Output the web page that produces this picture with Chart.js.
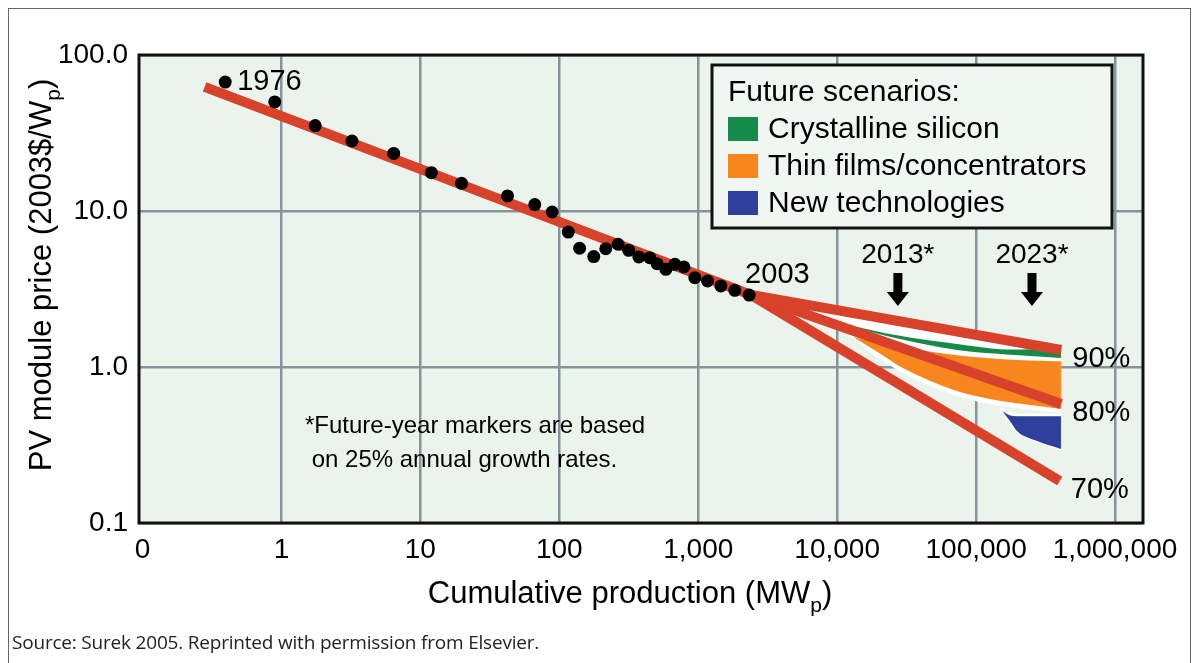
<!DOCTYPE html>
<html>
<head>
<meta charset="utf-8">
<title>PV module experience curve</title>
<script src="https://cdn.jsdelivr.net/npm/chart.js@4.4.1/dist/chart.umd.min.js"></script>
<style>
  html, body { margin: 0; padding: 0; background: #fff; }
  #wrap { position: relative; width: 1198px; height: 663px; overflow: hidden; }
  #frame { position: absolute; left: 8px; top: 8px; width: 1181px; height: 670px; border: 1px solid #666; }
  #myChart { position: absolute; left: 0; top: 0; }
  #source { position: absolute; left: 12px; top: 632px; font: 19px "Open Sans", sans-serif; line-height: 20px; color: #222; letter-spacing: -0.2px; }
</style>
</head>
<body>
<div id="wrap">
  <div id="frame"></div>
  <canvas id="myChart" width="1198" height="663"></canvas>
  <div id="source">Source: Surek 2005. Reprinted with permission from Elsevier.</div>
</div>
<script>
// historical data, 1976 .. 2003 (MWp, 2003$/Wp)
const histProduction = [0.394, 0.895, 1.75, 3.22, 6.43, 12.0, 19.8, 42.4, 66.6, 88.8, 116, 140, 177, 216, 265, 316, 374, 448, 506, 585, 679, 788, 945, 1167, 1455, 1834, 2324];
const histPrice = [67.1, 50.0, 35.3, 28.1, 23.4, 17.6, 15.05, 12.5, 11.0, 9.85, 7.33, 5.77, 5.10, 5.73, 6.12, 5.60, 5.07, 5.02, 4.59, 4.23, 4.55, 4.38, 3.74, 3.56, 3.31, 3.10, 2.89];

// 80% fit through the history
const fitProduction = [0.28, 2400];
const fitPrice = [62.4, 2.9];

// projections from 2003
const startProduction = 2400;
const startPrice = 2.9;
const learningLabels = ["90%", "80%", "70%"];
const endProduction = [410000, 410000, 400000];
const endPrice = [1.285, 0.579, 0.186];

// scenario areas (upper / lower edges)
const envelopeX = [5390, 9950, 19000, 29700, 72700, 125700, 217300, 408000];
const envelopeHigh = [2.633, 2.382, 2.138, 1.987, 1.714, 1.566, 1.429, 1.295];
const envelopeLow = [2.219, 1.805, 1.176, 0.915, 0.652, 0.579, 0.538, 0.507];

const siliconX = [9950, 23950, 72700, 166700, 408000];
const siliconHigh = [1.973, 1.659, 1.431, 1.318, 1.34];
const siliconLow = [1.94, 1.56, 1.285, 1.203, 1.142];

const thinFilmX = [12340, 19000, 29700, 72700, 125700, 217300, 408000];
const thinFilmHigh = [1.604, 1.468, 1.363, 1.211, 1.159, 1.125, 1.109];
const thinFilmLow = [1.604, 1.266, 0.985, 0.702, 0.624, 0.579, 0.538];

const newTechX = [148400, 175100, 196700, 274000, 408000];
const newTechHigh = [0.546, 0.4996, 0.492, 0.492, 0.492];
const newTechLow = [0.546, 0.4506, 0.389, 0.3355, 0.298];

// future-year markers
const markerYears = ["2013*", "2023*"];
const markerProduction = [27350, 252400];
const markerPrice = 4.0;

const xTickValues = [0.1, 1, 10, 100, 1000, 10000, 100000, 1000000];
const xTickLabels = ["0", "1", "10", "100", "1,000", "10,000", "100,000", "1,000,000"];
const yTickValues = [0.1, 1, 10, 100];
const yTickLabels = ["0.1", "1.0", "10.0", "100.0"];

const legendNames = ["Crystalline silicon", "Thin films/concentrators", "New technologies"];
const legendColors = ["#168a48", "#f7861f", "#2e3f9c"];

const RED = "#d8412a";
const INK = "#000";
const FONT = "'Liberation Sans', Arial, Helvetica, sans-serif";

const pts = (xs, ys) => xs.map((x, i) => ({ x: x, y: ys[i] }));

function area(data, color, fillTo, border, order) {
  return {
    data: data,
    showLine: true,
    pointRadius: 0,
    borderColor: border,
    borderWidth: border ? 2.5 : 0,
    backgroundColor: color,
    fill: fillTo,
    cubicInterpolationMode: "monotone",
    order: order
  };
}

function redLine(data) {
  return {
    data: data,
    showLine: true,
    pointRadius: 0,
    borderColor: RED,
    borderWidth: 10,
    borderCapStyle: "butt",
    fill: false,
    order: 3
  };
}

const datasets = [
  area(pts(envelopeX, envelopeHigh), "#ffffff", 1, null, 10),
  area(pts(envelopeX, envelopeLow), "#ffffff", false, null, 10),
  area(pts(siliconX, siliconHigh), legendColors[0], 3, "#ffffff", 9),
  area(pts(siliconX, siliconLow), legendColors[0], false, "#ffffff", 9),
  area(pts(thinFilmX, thinFilmHigh), legendColors[1], 5, "#ffffff", 8),
  area(pts(thinFilmX, thinFilmLow), legendColors[1], false, "#ffffff", 8),
  area(pts(newTechX, newTechHigh), legendColors[2], 7, "#ffffff", 7),
  area(pts(newTechX, newTechLow), legendColors[2], false, "#ffffff", 7),
  redLine(pts(fitProduction, fitPrice))
];
learningLabels.forEach((lab, i) => {
  datasets.push(redLine([{ x: startProduction, y: startPrice }, { x: endProduction[i], y: endPrice[i] }]));
});
datasets.push({
  data: pts(histProduction, histPrice),
  showLine: false,
  pointRadius: 6.5,
  pointBackgroundColor: "#000",
  pointBorderWidth: 0,
  order: 1
});

function textWithSub(ctx, main, sub, tail, size) {
  ctx.font = size + "px " + FONT;
  const w1 = ctx.measureText(main).width;
  const w3 = ctx.measureText(tail).width;
  ctx.font = Math.round(size * 0.68) + "px " + FONT;
  const w2 = ctx.measureText(sub).width;
  const total = w1 + w2 + w3;
  let x = -total / 2;
  ctx.textAlign = "left";
  ctx.font = size + "px " + FONT;
  ctx.fillText(main, x, 0);
  x += w1;
  ctx.font = Math.round(size * 0.68) + "px " + FONT;
  ctx.fillText(sub, x, size * 0.3);
  x += w2;
  ctx.font = size + "px " + FONT;
  ctx.fillText(tail, x, 0);
}

const decor = {
  id: "decor",
  beforeDraw(chart) {
    const a = chart.chartArea;
    const ctx = chart.ctx;
    ctx.save();
    ctx.fillStyle = "#eaf4ed";
    ctx.fillRect(a.left, a.top, a.right - a.left, a.bottom - a.top);
    ctx.restore();
  },
  afterDraw(chart) {
    const a = chart.chartArea;
    const ctx = chart.ctx;
    const xs = chart.scales.x;
    const ys = chart.scales.y;
    ctx.save();
    ctx.strokeStyle = "#111";
    ctx.lineWidth = 3;
    ctx.strokeRect(a.left, a.top, a.right - a.left, a.bottom - a.top);

    ctx.fillStyle = INK;
    ctx.textBaseline = "alphabetic";

    // point labels
    ctx.font = "29px " + FONT;
    ctx.textAlign = "left";
    const first = { x: xs.getPixelForValue(histProduction[0]), y: ys.getPixelForValue(histPrice[0]) };
    ctx.fillText("1976", first.x + 12, first.y + 8);
    const n = histProduction.length - 1;
    const last = { x: xs.getPixelForValue(histProduction[n]), y: ys.getPixelForValue(histPrice[n]) };
    ctx.fillText("2003", last.x - 4, last.y - 12);

    // learning rate labels
    learningLabels.forEach((lab, i) => {
      const px = xs.getPixelForValue(endProduction[i]);
      const py = ys.getPixelForValue(endPrice[i]);
      ctx.fillText(lab, px + 11, py + 17);
    });

    // future-year markers
    markerYears.forEach((lab, i) => {
      const px = xs.getPixelForValue(markerProduction[i]);
      const top = ys.getPixelForValue(markerPrice);
      ctx.textAlign = "center";
      ctx.font = "28px " + FONT;
      ctx.fillText(lab, px, top - 10);
      ctx.beginPath();
      ctx.moveTo(px - 4.5, top);
      ctx.lineTo(px + 4.5, top);
      ctx.lineTo(px + 4.5, top + 19);
      ctx.lineTo(px + 11, top + 19);
      ctx.lineTo(px, top + 33);
      ctx.lineTo(px - 11, top + 19);
      ctx.lineTo(px - 4.5, top + 19);
      ctx.closePath();
      ctx.fill();
    });

    // footnote
    ctx.textAlign = "left";
    ctx.font = "24px " + FONT;
    ctx.fillText("*Future-year markers are based", 305, 433);
    ctx.fillText(" on 25% annual growth rates.", 305, 467);

    // legend box
    ctx.fillStyle = "#f0f7f2";
    ctx.fillRect(712, 65, 400, 163);
    ctx.lineWidth = 3;
    ctx.strokeStyle = "#111";
    ctx.strokeRect(712, 65, 400, 163);
    ctx.fillStyle = INK;
    ctx.font = "30px " + FONT;
    ctx.fillText("Future scenarios:", 728, 101);
    legendNames.forEach((name, i) => {
      const y = 138 + i * 37;
      ctx.fillStyle = legendColors[i];
      ctx.fillRect(728, y - 21, 30, 24);
      ctx.fillStyle = INK;
      ctx.fillText(name, 768, y);
    });

    // axis titles
    ctx.save();
    ctx.translate(630, 603);
    textWithSub(ctx, "Cumulative production (MW", "p", ")", 31);
    ctx.restore();

    ctx.save();
    ctx.translate(51, 275);
    ctx.rotate(-Math.PI / 2);
    textWithSub(ctx, "PV module price (2003$/W", "p", ")", 31);
    ctx.restore();

    ctx.restore();
  }
};

const gridColor = "#86939a";

new Chart(document.getElementById("myChart"), {
  type: "scatter",
  data: { datasets: datasets },
  options: {
    responsive: false,
    animation: false,
    events: [],
    layout: { padding: { left: 0, top: 55, right: 55, bottom: 0 } },
    plugins: {
      legend: { display: false },
      tooltip: { enabled: false }
    },
    scales: {
      x: {
        type: "logarithmic",
        min: 0.0944,
        max: 1589000,
        afterBuildTicks: (s) => { s.ticks = xTickValues.map((v) => ({ value: v })); },
        afterFit: (s) => { s.height = 140; },
        ticks: {
          autoSkip: false,
          maxRotation: 0,
          padding: 10,
          color: INK,
          font: { size: 28, family: FONT },
          callback: (v) => xTickLabels[xTickValues.indexOf(v)]
        },
        grid: {
          drawTicks: false,
          lineWidth: 2.5,
          color: (c) => (c.tick && c.tick.value < 0.5 ? "rgba(0,0,0,0)" : gridColor)
        },
        border: { display: false }
      },
      y: {
        type: "logarithmic",
        min: 0.1,
        max: 100,
        afterBuildTicks: (s) => { s.ticks = yTickValues.map((v) => ({ value: v })); },
        afterFit: (s) => { s.width = 139; },
        ticks: {
          autoSkip: false,
          padding: 11,
          color: INK,
          font: { size: 28, family: FONT },
          callback: (v) => yTickLabels[yTickValues.indexOf(v)]
        },
        grid: { drawTicks: false, lineWidth: 2.5, color: gridColor },
        border: { display: false }
      }
    }
  },
  plugins: [decor]
});
</script>
</body>
</html>
